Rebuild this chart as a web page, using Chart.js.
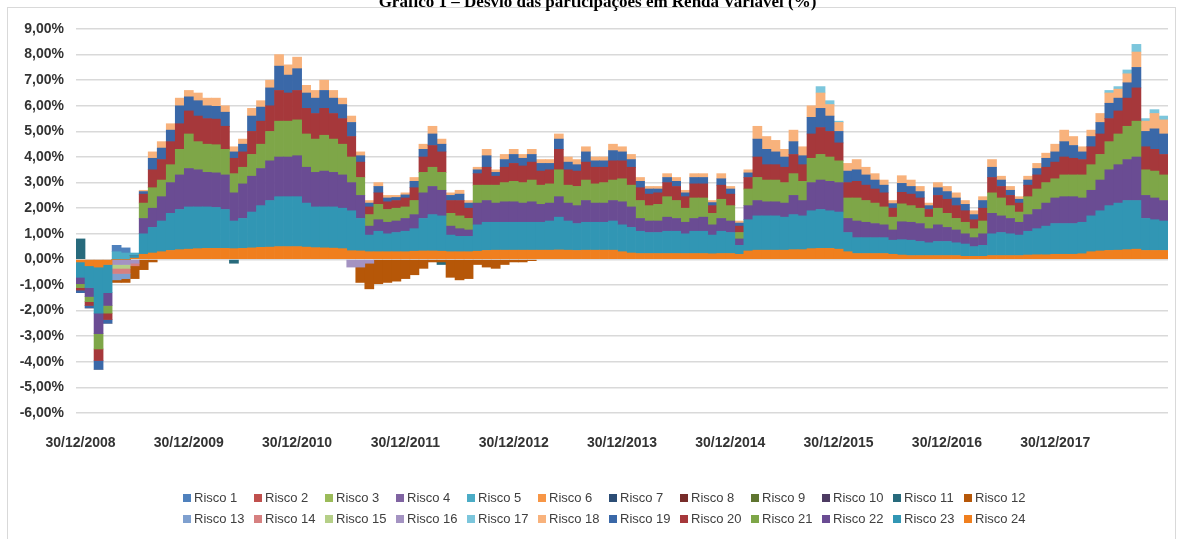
<!DOCTYPE html>
<html lang="pt-BR">
<head>
<meta charset="utf-8">
<title>Gráfico 1 – Desvio das participações em Renda Variável (%)</title>
<script src="https://cdn.jsdelivr.net/npm/chart.js@4.4.1/dist/chart.umd.min.js"></script>
<style>
  html, body { margin: 0; padding: 0; background: #fff; }
  body { width: 1181px; height: 539px; position: relative; overflow: hidden; font-family: "Liberation Sans", Arial, sans-serif; }
  #frame { position: absolute; left: 7px; top: 7px; width: 1167px; height: 600px; border: 1px solid #d9d9d9; }
  #title { position: absolute; left: 0; width: 1195px; top: -7px; text-align: center; font: bold 17px/17px "Liberation Serif", "Times New Roman", serif; color: #000; }
  #chart { position: absolute; left: 0; top: 0; }
  #legend { position: absolute; left: 183px; top: 487px; color: #404040; font-size: 13px; }
  .row { display: grid; grid-template-columns: repeat(12, 71px); height: 21px; align-items: center; }
  .item { display: flex; align-items: center; white-space: nowrap; }
  .box { width: 8px; height: 8px; margin-right: 3px; flex: none; }
</style>
</head>
<body>
<div id="frame"></div>
<canvas id="chart" width="1181" height="539"></canvas>
<div id="title">Gráfico 1 – Desvio das participações em Renda Variável (%)</div>
<div id="legend"></div>
<script>
// Meses (fim de mês) de dez/2008 a dez/2018
const categories = [
  '12/2008',
  '01/2009','02/2009','03/2009','04/2009','05/2009','06/2009','07/2009','08/2009','09/2009','10/2009','11/2009','12/2009',
  '01/2010','02/2010','03/2010','04/2010','05/2010','06/2010','07/2010','08/2010','09/2010','10/2010','11/2010','12/2010',
  '01/2011','02/2011','03/2011','04/2011','05/2011','06/2011','07/2011','08/2011','09/2011','10/2011','11/2011','12/2011',
  '01/2012','02/2012','03/2012','04/2012','05/2012','06/2012','07/2012','08/2012','09/2012','10/2012','11/2012','12/2012',
  '01/2013','02/2013','03/2013','04/2013','05/2013','06/2013','07/2013','08/2013','09/2013','10/2013','11/2013','12/2013',
  '01/2014','02/2014','03/2014','04/2014','05/2014','06/2014','07/2014','08/2014','09/2014','10/2014','11/2014','12/2014',
  '01/2015','02/2015','03/2015','04/2015','05/2015','06/2015','07/2015','08/2015','09/2015','10/2015','11/2015','12/2015',
  '01/2016','02/2016','03/2016','04/2016','05/2016','06/2016','07/2016','08/2016','09/2016','10/2016','11/2016','12/2016',
  '01/2017','02/2017','03/2017','04/2017','05/2017','06/2017','07/2017','08/2017','09/2017','10/2017','11/2017','12/2017',
  '01/2018','02/2018','03/2018','04/2018','05/2018','06/2018','07/2018','08/2018','09/2018','10/2018','11/2018','12/2018'
];

// Rótulos do eixo horizontal
const tickLabels = ['30/12/2008','30/12/2009','30/12/2010','30/12/2011','30/12/2012',
  '30/12/2013','30/12/2014','30/12/2015','30/12/2016','30/12/2017'];

const riskNames = ['Risco 1','Risco 2','Risco 3','Risco 4','Risco 5','Risco 6','Risco 7','Risco 8',
  'Risco 9','Risco 10','Risco 11','Risco 12','Risco 13','Risco 14','Risco 15','Risco 16',
  'Risco 17','Risco 18','Risco 19','Risco 20','Risco 21','Risco 22','Risco 23','Risco 24'];

const riskColors = ['#4F81BD','#C0504D','#9BBB59','#8064A2','#4BACC6','#F79646','#2C4D75','#772C2A',
  '#5F7530','#4D3B62','#276A7C','#B65708','#7FA0CF','#D68080','#B5CF87','#A493C2',
  '#7CC6DC','#F8B27C','#3A68A8','#A6383B','#7EA648','#6A4C93','#3196B4','#F07F1E'];

// Desvio (%) por mês, série a série
const risco24 = [
  -0.1,-0.25,-0.3,-0.2,0,0,0.05,0.2,0.25,0.3,0.35,0.38,
  0.4,0.42,0.43,0.43,0.43,0.42,0.43,0.45,0.47,0.48,0.5,0.5,
  0.5,0.48,0.46,0.45,0.44,0.42,0.34,0.33,0.3,0.3,0.3,0.3,
  0.3,0.32,0.33,0.33,0.32,0.3,0.3,0.3,0.32,0.35,0.36,0.36,
  0.36,0.36,0.36,0.36,0.36,0.37,0.36,0.35,0.36,0.36,0.36,0.36,
  0.3,0.25,0.23,0.23,0.23,0.23,0.23,0.23,0.23,0.23,0.22,0.23,
  0.23,0.2,0.33,0.36,0.36,0.36,0.36,0.38,0.38,0.42,0.43,0.43,
  0.4,0.3,0.23,0.23,0.23,0.23,0.2,0.17,0.15,0.15,0.15,0.15,
  0.15,0.15,0.12,0.12,0.12,0.15,0.15,0.15,0.15,0.17,0.18,0.18,
  0.2,0.2,0.2,0.22,0.3,0.33,0.35,0.36,0.38,0.4,0.35,0.35,
  0.35
];
const risco23 = [
  -0.6,-0.85,-1.8,-1.1,0,0,0.1,0.8,1.0,1.2,1.45,1.57,
  1.65,1.63,1.62,1.6,1.52,1.08,1.17,1.4,1.63,1.82,1.95,1.95,
  1.95,1.72,1.59,1.6,1.61,1.58,1.56,1.27,0.65,0.8,0.7,0.75,
  0.8,0.88,1.27,1.42,1.38,0.65,0.6,0.6,1.03,1.1,1.09,1.09,
  1.09,1.09,1.09,1.09,1.14,1.28,1.14,1.05,1.09,1.09,1.09,1.14,
  1.05,1.0,0.87,0.82,0.82,0.87,0.87,0.77,0.87,0.87,0.73,0.87,
  0.82,0.35,1.22,1.34,1.34,1.34,1.29,1.37,1.32,1.48,1.52,1.47,
  1.45,0.75,0.62,0.62,0.62,0.62,0.55,0.6,0.6,0.55,0.5,0.55,
  0.55,0.5,0.48,0.38,0.43,0.85,0.9,0.85,0.8,0.93,1.02,1.12,
  1.2,1.2,1.2,1.23,1.4,1.57,1.75,1.84,1.92,1.9,1.25,1.2,
  1.15
];
const risco22 = [
  -0.25,-0.35,-0.8,-0.5,0,0,0,0.6,0.75,0.95,1.2,1.35,
  1.5,1.45,1.35,1.35,1.35,1.1,1.35,1.4,1.45,1.55,1.55,1.55,
  1.6,1.4,1.35,1.4,1.35,1.3,1.1,0.9,0.35,0.45,0.45,0.45,
  0.5,0.55,1.0,1.1,1.0,0.35,0.3,0.25,0.85,0.85,0.75,0.8,
  0.8,0.75,0.8,0.7,0.7,0.8,0.7,0.7,0.85,0.75,0.75,0.8,
  0.9,0.8,0.5,0.45,0.45,0.55,0.5,0.45,0.5,0.55,0.4,0.5,
  0.45,0.25,0.55,0.6,0.55,0.55,0.55,0.75,0.6,1.1,1.15,1.15,
  1.15,0.55,0.65,0.6,0.55,0.5,0.4,0.7,0.7,0.7,0.55,0.65,
  0.55,0.5,0.4,0.35,0.45,0.8,0.65,0.6,0.5,0.65,0.75,0.9,
  1.0,1.05,1.05,0.95,1.0,1.2,1.4,1.5,1.6,1.7,0.9,0.85,
  0.8
];
const risco21 = [
  -0.15,-0.2,-0.6,-0.3,0,0,0,0.6,0.8,0.65,0.7,1.0,
  1.35,1.1,1.1,1.1,1.0,0.75,0.65,0.85,0.95,1.15,1.4,1.4,
  1.4,1.3,1.3,1.4,1.3,1.2,1.0,0.7,0.45,0.6,0.5,0.5,
  0.45,0.55,0.8,0.75,0.7,0.5,0.5,0.45,0.7,0.6,0.7,0.75,
  0.8,0.8,0.85,0.75,0.75,1.05,0.7,0.75,0.8,0.75,0.8,0.8,
  0.9,0.85,0.7,0.6,0.65,0.8,0.7,0.55,0.8,0.75,0.45,0.75,
  0.6,0.25,0.65,0.9,0.85,0.85,0.8,0.85,0.75,0.95,1.0,0.95,
  0.85,0.8,0.9,0.85,0.8,0.7,0.5,0.7,0.65,0.6,0.45,0.65,
  0.55,0.45,0.45,0.35,0.5,0.8,0.7,0.5,0.4,0.7,0.8,0.8,
  0.75,0.85,0.85,0.9,1.0,1.0,1.1,1.2,1.3,1.4,1.0,1.05,
  1.0
];
const risco20 = [
  -0.1,-0.15,-0.45,-0.25,0,0,0,0.35,0.7,0.8,0.9,1.0,
  0.9,1.0,1.0,1.0,0.9,0.6,0.6,0.9,0.9,1.0,1.2,1.1,
  1.15,1.0,1.0,1.05,1.0,1.0,0.8,0.6,0.3,0.45,0.3,0.3,
  0.35,0.5,0.6,0.85,0.8,0.5,0.6,0.4,0.45,0.7,0.35,0.6,
  0.7,0.65,0.7,0.55,0.55,0.8,0.6,0.6,0.7,0.65,0.6,0.75,
  0.7,0.7,0.5,0.45,0.45,0.55,0.55,0.45,0.55,0.55,0.3,0.55,
  0.45,0.25,0.45,0.8,0.6,0.6,0.6,0.75,0.65,0.95,1.05,1.0,
  0.7,0.6,0.65,0.6,0.55,0.55,0.35,0.45,0.45,0.4,0.3,0.5,
  0.55,0.5,0.45,0.35,0.5,0.6,0.45,0.4,0.35,0.45,0.55,0.6,
  0.65,0.7,0.65,0.6,0.7,0.8,0.9,0.9,1.1,1.3,0.9,0.85,
  0.8
];
const risco19 = [
  -0.1,-0.1,-0.35,-0.15,0,0,0,0.1,0.45,0.45,0.45,0.7,
  0.55,0.6,0.5,0.5,0.55,0.25,0.3,0.6,0.55,0.7,0.95,0.7,
  0.85,0.6,0.6,0.7,0.6,0.55,0.55,0.25,0.15,0.25,0.15,0.12,
  0.12,0.25,0.3,0.45,0.3,0.2,0.25,0.2,0.15,0.45,0.15,0.3,
  0.35,0.3,0.3,0.3,0.25,0.4,0.3,0.25,0.4,0.25,0.25,0.4,
  0.35,0.3,0.25,0.2,0.15,0.2,0.2,0.15,0.25,0.25,0.12,0.25,
  0.2,0.12,0.18,0.7,0.6,0.5,0.4,0.5,0.35,0.65,0.75,0.6,
  0.45,0.45,0.45,0.4,0.35,0.3,0.18,0.35,0.3,0.25,0.15,0.3,
  0.3,0.3,0.25,0.2,0.3,0.4,0.25,0.2,0.15,0.2,0.25,0.35,
  0.4,0.6,0.5,0.3,0.4,0.45,0.6,0.5,0.6,0.8,0.6,0.8,
  0.8
];
const risco18 = [
  0,0,0,0,0,0,0,0.05,0.25,0.25,0.25,0.3,
  0.25,0.3,0.3,0.32,0.25,0.2,0.2,0.3,0.25,0.3,0.45,0.4,
  0.45,0.3,0.3,0.4,0.3,0.25,0.25,0.15,0.1,0.15,0.1,0.08,
  0.08,0.15,0.2,0.3,0.2,0.1,0.15,0.1,0.1,0.25,0.1,0.2,
  0.2,0.15,0.2,0.15,0.15,0.2,0.2,0.2,0.2,0.15,0.15,0.25,
  0.2,0.2,0.15,0.1,0.1,0.15,0.15,0.1,0.15,0.15,0.08,0.2,
  0.1,0.08,0.12,0.5,0.5,0.45,0.3,0.45,0.35,0.45,0.6,0.45,
  0.35,0.3,0.4,0.3,0.25,0.2,0.12,0.3,0.25,0.2,0.1,0.2,
  0.2,0.2,0.15,0.15,0.15,0.3,0.15,0.15,0.1,0.15,0.2,0.2,
  0.3,0.45,0.35,0.2,0.25,0.35,0.4,0.35,0.35,0.6,0.4,0.6,
  0.55
];
// Séries com poucos meses diferentes de zero: [mês, valor]
const risco17 = [['10/2015',0.25],['11/2015',0.15],['12/2015',0.05],['06/2018',0.1],['07/2018',0.1],
  ['08/2018',0.15],['09/2018',0.3],['10/2018',0.1],['11/2018',0.15],['12/2018',0.15]];
const risco16 = [['04/2009',-0.2],['05/2009',-0.2],['06/2009',-0.15],['06/2011',-0.3],['07/2011',-0.3],['08/2011',-0.15]];
const risco15 = [['04/2009',-0.15],['05/2009',-0.15]];
const risco14 = [['04/2009',-0.2],['05/2009',-0.2],['06/2009',-0.1]];
const risco13 = [['04/2009',-0.25],['05/2009',-0.2]];
const risco12 = [['04/2009',-0.1],['05/2009',-0.15],['06/2009',-0.5],['07/2009',-0.4],['08/2009',-0.1],
  ['07/2011',-0.6],['08/2011',-1.0],['09/2011',-0.95],['10/2011',-0.9],['11/2011',-0.85],['12/2011',-0.75],
  ['01/2012',-0.6],['02/2012',-0.35],['03/2012',-0.1],['04/2012',-0.1],['05/2012',-0.7],['06/2012',-0.8],
  ['07/2012',-0.75],['08/2012',-0.2],['09/2012',-0.3],['10/2012',-0.35],['11/2012',-0.2],['12/2012',-0.1],
  ['01/2013',-0.1],['02/2013',-0.05]];
const risco11 = [['12/2008',0.8],['05/2010',-0.15],['04/2012',-0.1]];
const risco5 = [['04/2009',0.3],['05/2009',0.25],['06/2009',0.1]];
const risco1 = [['04/2009',0.25],['05/2009',0.2]];

const riskSeries = [risco1, [], [], [], risco5, [], [], [], [], [], risco11, risco12,
  risco13, risco14, risco15, risco16, risco17, risco18, risco19, risco20, risco21, risco22, risco23, risco24];

function toData(s) {
  if (s.length && Array.isArray(s[0])) return s.map(p => ({ x: p[0], y: p[1] }));
  return s;
}

const xFont = { family: '"Liberation Sans"', size: 14, weight: 'bold' };
const yFont = { family: '"Liberation Sans"', size: 14, weight: 'bold' };

// Monta os conjuntos: Risco 24 fica junto do zero
const datasets = [];
for (let i = riskNames.length - 1; i >= 0; i--) {
  datasets.push({
    label: riskNames[i],
    data: toData(riskSeries[i]),
    backgroundColor: riskColors[i],
    borderWidth: 0,
    categoryPercentage: 1,
    barPercentage: 1
  });
}

new Chart(document.getElementById('chart'), {
  type: 'bar',
  data: { labels: categories, datasets: datasets },
  options: {
    responsive: false,
    animation: false,
    layout: { padding: { left: 0, top: 29, right: 13, bottom: 86 } },
    plugins: { legend: { display: false }, tooltip: { enabled: false }, title: { display: false } },
    scales: {
      x: {
        stacked: true,
        grid: { display: false },
        border: { display: false },
        afterFit: s => { s.height = 40; },
        ticks: {
          autoSkip: false, maxRotation: 0, minRotation: 0, padding: 14,
          color: '#333333', font: xFont,
          callback: function (v) {
            const lab = this.getLabelForValue(v);
            const t = tickLabels.find(s => s.slice(3) === lab);
            return t || null;
          }
        }
      },
      y: {
        stacked: true,
        min: -6, max: 9,
        afterFit: s => { s.width = 76; },
        grid: { color: '#d9d9d9', lineWidth: 1.5, drawTicks: false },
        border: { display: false },
        ticks: {
          stepSize: 1, padding: 12, color: '#333333', font: yFont,
          callback: v => v.toFixed(2).replace('.', ',') + '%'
        }
      }
    }
  }
});

// Legenda em duas linhas de 12 itens
const legend = document.getElementById('legend');
for (let r = 0; r < 2; r++) {
  const row = document.createElement('div');
  row.className = 'row';
  for (let i = r * 12; i < r * 12 + 12; i++) {
    const item = document.createElement('div');
    item.className = 'item';
    const box = document.createElement('span');
    box.className = 'box';
    box.style.background = riskColors[i];
    item.appendChild(box);
    item.appendChild(document.createTextNode(riskNames[i]));
    row.appendChild(item);
  }
  legend.appendChild(row);
}
</script>
</body>
</html>
